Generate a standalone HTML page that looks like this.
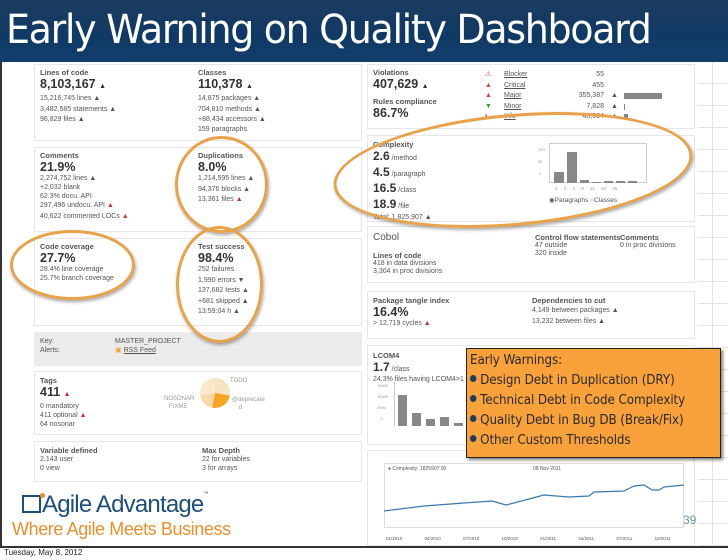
<!DOCTYPE html>
<html><head><meta charset="utf-8">
<style>
*{margin:0;padding:0;box-sizing:border-box}
body{width:728px;height:560px;overflow:hidden;background:#fff;font-family:"Liberation Sans",sans-serif;position:relative;color:#444}
.a{position:absolute}
.hdr{left:0;top:0;width:728px;height:62px;background:linear-gradient(#1d3b5f,#0f3a66 60%,#123e6b)}
.title{left:6px;top:7px;color:#fff;font-size:40px;font-family:"DejaVu Sans","Liberation Sans",sans-serif;letter-spacing:-1.4px;font-weight:normal;white-space:nowrap;transform:scaleX(0.95);transform-origin:left}
.p{position:absolute;border:1px solid #e6e6e6;background:#fff}
.s{font-size:7px;color:#555;line-height:10.5px;white-space:nowrap}
.h{font-size:7.5px;font-weight:bold;color:#555}
.big{font-size:12.5px;font-weight:bold;color:#333;line-height:14px}
.ell{position:absolute;border:3px solid #e8a24a;border-radius:50%;box-shadow:1px 2px 3px rgba(0,0,0,.35)}
.t{position:absolute;white-space:nowrap}
.bar{position:absolute;background:#888}
.cl{position:absolute;left:470px;font-family:'DejaVu Sans',sans-serif;font-size:13px;color:#2a2a2a;white-space:nowrap;transform:scaleX(0.92);transform-origin:left;letter-spacing:-0.1px}
.dot{display:inline-block;width:7px;height:7px;border-radius:50%;background:#1f3b60;margin-right:4px;vertical-align:2px}
</style></head><body>
<div class="a hdr"></div>
<div class="a title">Early Warning on Quality Dashboard</div>
<div class="a" style="left:0;top:62px;width:2px;height:486px;background:#333"></div>
<div class="a" style="left:0;top:546px;width:728px;height:2px;background:#333"></div>
<div class="t s" style="left:4px;top:548px;font-size:8px;color:#222">Tuesday, May 8, 2012</div>
<div class="a" style="left:698px;top:62px;width:30px;height:484px;background:repeating-linear-gradient(#fff 0,#fff 21px,#e4e4e4 21px,#e4e4e4 22px)"></div>
<div class="a" style="left:712px;top:62px;width:1px;height:484px;background:#e4e4e4"></div>

<div class="p" style="left:34px;top:64px;width:328px;height:77px"></div>
<div class="t" style="left:40px;top:68px"><div class="h">Lines of code</div><div class="big">8,103,167 <span style="font-size:7px">▲</span></div><div class="s">15,216,745 lines ▲<br>3,482,585 statements ▲<br>96,829 files ▲</div></div>
<div class="t" style="left:198px;top:68px"><div class="h">Classes</div><div class="big">110,378 <span style="font-size:7px">▲</span></div><div class="s">14,875 packages ▲<br>704,810 methods ▲<br>+88,434 accessors ▲</div><div class="s" style="line-height:8px">159 paragraphs</div></div>

<div class="p" style="left:34px;top:147px;width:328px;height:85px"></div>
<div class="t" style="left:40px;top:151px"><div class="h">Comments</div><div class="big">21.9%</div><div class="s" style="line-height:9px">2,274,752 lines ▲<br>+2,032 blank<br>62.3% docu. API</div><div class="s">297,496 undocu. API <span style="color:#c33">▲</span><br>40,622 commented LOCs <span style="color:#c33">▲</span></div></div>
<div class="t" style="left:198px;top:151px"><div class="h">Duplications</div><div class="big">8.0%</div><div class="s">1,214,595 lines ▲<br>94,376 blocks ▲<br>13,361 files <span style="color:#c33">▲</span></div></div>

<div class="p" style="left:34px;top:238px;width:328px;height:88px"></div>
<div class="t" style="left:40px;top:242px"><div class="h">Code coverage</div><div class="big">27.7%</div><div class="s" style="line-height:9px">28.4% line coverage<br>25.7% branch coverage</div></div>
<div class="t" style="left:198px;top:242px"><div class="h">Test success</div><div class="big">98.4%</div><div class="s">252 failures<br>1,990 errors ▼<br>137,682 tests ▲<br>+681 skipped ▲<br>13:59:04 h ▲</div></div>

<div class="a" style="left:34px;top:332px;width:328px;height:34px;background:#ebebeb"></div>
<div class="t s" style="left:40px;top:337px;line-height:9px">Key:<br>Alerts:</div>
<div class="t s" style="left:115px;top:337px;line-height:9px">MASTER_PROJECT<br><span style="color:#e9a030">▣</span> <u>RSS Feed</u></div>

<div class="p" style="left:34px;top:371px;width:328px;height:64px"></div>
<div class="t" style="left:40px;top:376px"><div class="h">Tags</div><div class="big">411 <span style="font-size:7px;color:#c33">▲</span></div><div class="s" style="line-height:9px">0 mandatory<br>411 optional <span style="color:#c33">▲</span><br>64 nosonar</div></div>
<div class="a" style="left:200px;top:378px;width:30px;height:30px;border-radius:50%;background:conic-gradient(#f7e4c4 0 100deg,#f5a623 100deg 190deg,#fad9a6 190deg 260deg,#fbe8cc 260deg)"></div>
<div class="t s" style="left:164px;top:395px;color:#999;font-size:6px;line-height:8px">NOSONAR<br>&nbsp;&nbsp;&nbsp;FIXME</div>
<div class="t s" style="left:230px;top:376px;color:#999;font-size:6px">TODO</div>
<div class="t s" style="left:232px;top:396px;color:#999;font-size:6px;line-height:8px">@deprecate<br>&nbsp;&nbsp;&nbsp;&nbsp;d</div>

<div class="p" style="left:34px;top:441px;width:328px;height:41px"></div>
<div class="t" style="left:40px;top:446px"><div class="h">Variable defined</div><div class="s" style="line-height:9px">2,143 user<br>0 view</div></div>
<div class="t" style="left:202px;top:446px"><div class="h">Max Depth</div><div class="s" style="line-height:9px">22 for variables<br>3 for arrays</div></div>

<div class="a" style="left:22px;top:495px;width:19px;height:18px;border:2px solid #1f4e79"></div>
<div class="a" style="left:40px;top:493px;width:5px;height:5px;border-radius:50%;background:#e8902a"></div>
<div class="t" style="left:42px;top:491px;font-size:24px;color:#1f4e79;letter-spacing:-0.8px">Agile Advantage<span style="font-size:5px;vertical-align:top">™</span></div>
<div class="t" style="left:12px;top:519px;font-size:18px;color:#e8902a;letter-spacing:-0.4px">Where Agile Meets Business</div>

<div class="p" style="left:367px;top:64px;width:328px;height:65px"></div>
<div class="t" style="left:373px;top:68px"><div class="h">Violations</div><div class="big">407,629 <span style="font-size:7px">▲</span></div><div class="h" style="margin-top:3px">Rules compliance</div><div class="big">86.7%</div></div>
<div class="t s" style="left:485px;top:70px;color:#c44;line-height:10.5px">⚠<br>▲<br>▲<br><span style="color:#393">▼</span><br>•</div>
<div class="t s" style="left:504px;top:70px;line-height:10.5px"><u>Blocker</u><br><u>Critical</u><br><u>Major</u><br><u>Minor</u><br><u>Info</u></div>
<div class="t s" style="left:560px;top:70px;line-height:10.5px;text-align:right;width:44px">55<br>455<br>355,387<br>7,828<br>43,904</div>
<div class="t s" style="left:611px;top:91px;line-height:10.5px">▲<br>▲<br>▲</div>
<div class="bar" style="left:624px;top:93px;width:38px;height:6px"></div>
<div class="bar" style="left:624px;top:104px;width:1px;height:6px"></div>
<div class="bar" style="left:624px;top:114px;width:4px;height:6px"></div>

<div class="p" style="left:367px;top:135px;width:328px;height:87px"></div>
<div class="t" style="left:373px;top:140px"><div class="h">Complexity</div><div class="s" style="line-height:13px"><b class="big" style="font-size:12px">2.6</b> /method<br><b class="big" style="font-size:12px">4.5</b> /paragraph<br><b class="big" style="font-size:12px">16.5</b> /class<br><b class="big" style="font-size:12px">18.9</b> /file</div><div class="s">Total: 1,825,907 ▲</div></div>
<div class="a" style="left:549px;top:143px;width:98px;height:40px;border:1px solid #ccc"></div>
<div class="bar" style="left:554px;top:172px;width:10px;height:11px"></div>
<div class="bar" style="left:567px;top:152px;width:10px;height:31px"></div>
<div class="bar" style="left:580px;top:180px;width:9px;height:3px"></div>
<div class="bar" style="left:592px;top:182px;width:9px;height:1px"></div>
<div class="bar" style="left:604px;top:181px;width:9px;height:2px"></div>
<div class="bar" style="left:616px;top:181px;width:9px;height:2px"></div>
<div class="bar" style="left:628px;top:181px;width:9px;height:2px"></div>
<div class="t s" style="left:538px;top:144px;font-size:4px;color:#999;line-height:12px">100<br>50<br>&nbsp;0</div>
<div class="t s" style="left:555px;top:184px;font-size:4.5px;color:#999;word-spacing:5px">1 2 3 8 11 15 25</div>
<div class="t s" style="left:549px;top:196px;font-size:6.5px">◉Paragraphs ○Classes</div>

<div class="p" style="left:367px;top:226px;width:328px;height:57px"></div>
<div class="t" style="left:373px;top:232px;font-size:10px;color:#555">Cobol</div>
<div class="t" style="left:373px;top:251px"><div class="h">Lines of code</div><div class="s" style="line-height:8px">418 in data divisions<br>3,304 in proc divisions</div></div>
<div class="t" style="left:535px;top:233px"><div class="h">Control flow statements</div><div class="s" style="line-height:8px">47 outside<br>320 inside</div></div>
<div class="t" style="left:620px;top:233px"><div class="h">Comments</div><div class="s" style="line-height:8px">0 in proc divisions</div></div>

<div class="p" style="left:367px;top:291px;width:328px;height:48px"></div>
<div class="t" style="left:373px;top:296px"><div class="h">Package tangle index</div><div class="big">16.4%</div><div class="s">&gt; 12,719 cycles <span style="color:#c33">▲</span></div></div>
<div class="t" style="left:532px;top:296px"><div class="h">Dependencies to cut</div><div class="s" style="line-height:11px">4,149 between packages ▲<br>13,232 between files ▲</div></div>

<div class="p" style="left:367px;top:345px;width:328px;height:100px"></div>
<div class="t" style="left:373px;top:351px"><div class="h">LCOM4</div><div class="s"><b class="big" style="font-size:12px">1.7</b> /class</div><div class="s" style="line-height:8px">24.3% files having LCOM4&gt;1</div></div>
<div class="a" style="left:394px;top:382px;width:1px;height:44px;background:#ccc"></div>
<div class="bar" style="left:398px;top:395px;width:9px;height:31px"></div>
<div class="bar" style="left:412px;top:413px;width:9px;height:13px"></div>
<div class="bar" style="left:426px;top:419px;width:9px;height:7px"></div>
<div class="bar" style="left:440px;top:417px;width:9px;height:9px"></div>
<div class="bar" style="left:454px;top:423px;width:9px;height:3px"></div>
<div class="t s" style="left:377px;top:380px;font-size:4px;color:#999;line-height:11px">15000<br>10000<br>5000<br>&nbsp;&nbsp;&nbsp;0</div>

<div class="p" style="left:367px;top:450px;width:328px;height:96px"></div>
<div class="a" style="left:384px;top:463px;width:300px;height:65px;border:1px solid #ddd"></div>
<div class="t s" style="left:388px;top:464px;font-size:5px">● Complexity: 1825907.00</div>
<div class="t s" style="left:533px;top:464px;font-size:5px">08 Nov 2011</div>
<svg class="a" style="left:384px;top:463px" width="300" height="75">
<polyline fill="none" stroke="#3a78b0" stroke-width="1.2" points="0,48 40,43 80,40 108,38 122,42 145,36 160,32 185,34 205,33 210,29 240,28 250,23 260,22 268,27 275,27 280,24 300,22 310,20"/>
</svg>
<div class="t s" style="left:386px;top:534px;font-size:4.5px;color:#555;word-spacing:21px">01/2010 04/2010 07/2010 10/2010 01/2011 04/2011 07/2011 10/2011</div>
<div class="t" style="left:683px;top:513px;font-size:12px;color:#6a8fb5">39</div>

<div class="a" style="left:466px;top:348px;width:255px;height:110px;background:#f9a23c;border:1.5px solid #222;box-shadow:2px 2px 3px rgba(0,0,0,.5)"></div>
<div class="cl" style="top:353px">Early Warnings:</div>
<div class="cl" style="top:373px"><span class="dot"></span>Design Debt in Duplication (DRY)</div>
<div class="cl" style="top:393px"><span class="dot"></span>Technical Debt in Code Complexity</div>
<div class="cl" style="top:413px"><span class="dot"></span>Quality Debt in Bug DB (Break/Fix)</div>
<div class="cl" style="top:433px"><span class="dot"></span>Other Custom Thresholds</div>

<div class="ell" style="left:175px;top:136px;width:93px;height:97px"></div>
<div class="ell" style="left:176px;top:226px;width:87px;height:117px"></div>
<div class="ell" style="left:10px;top:230px;width:125px;height:70px"></div>
<div class="ell" style="left:333px;top:114px;width:360px;height:112px;transform:rotate(-5deg)"></div>
</body></html>
